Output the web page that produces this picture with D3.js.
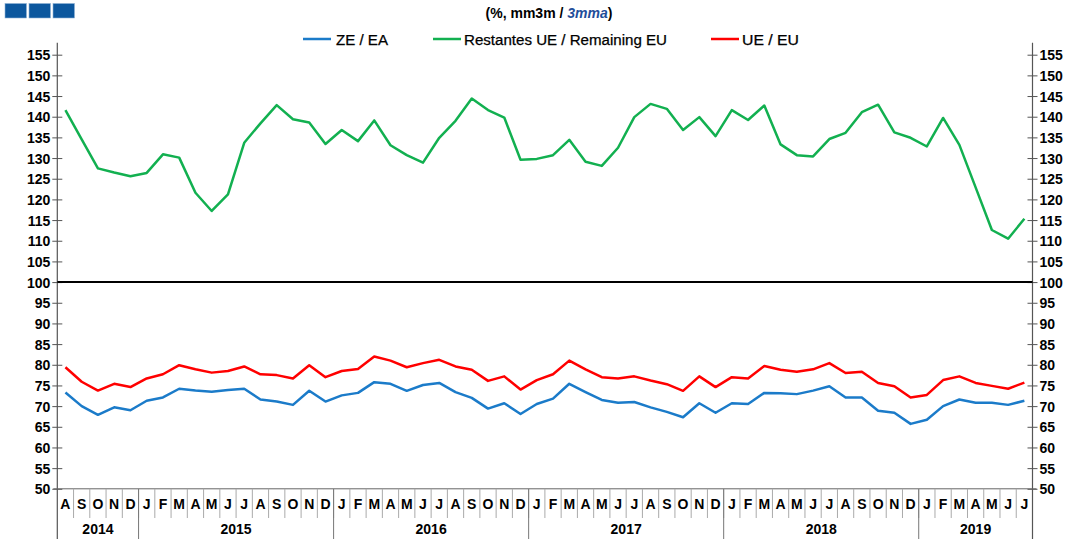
<!DOCTYPE html>
<html>
<head>
<meta charset="utf-8">
<script src="https://cdn.jsdelivr.net/npm/d3@7"></script>
<style>
  html, body { margin: 0; padding: 0; background: #fff; }
  svg { display: block; font-family: "Liberation Sans", Arial, sans-serif; }
  .tick-label { font-size: 14px; font-weight: bold; fill: #000; }
  .month-label { font-size: 14px; font-weight: bold; fill: #000; }
  .year-label { font-size: 14px; font-weight: bold; fill: #000; }
  .legend-label { font-size: 14px; fill: #000; }
</style>
</head>
<body>
<svg id="chart" width="1075" height="539"></svg>
<script>
/* months Aug 2014 .. Jul 2019 */
const monthLetters = ["A","S","O","N","D",
  "J","F","M","A","M","J","J","A","S","O","N","D",
  "J","F","M","A","M","J","J","A","S","O","N","D",
  "J","F","M","A","M","J","J","A","S","O","N","D",
  "J","F","M","A","M","J","J","A","S","O","N","D",
  "J","F","M","A","M","J","J"];

const years = ["2014", "2015", "2016", "2017", "2018", "2019"];
const yearMonths = [5, 12, 12, 12, 12, 7];

const remainingEU = [141.6, 134.5, 127.5, 126.5, 125.6, 126.4, 130.9, 130.1, 121.6, 117.2,
  121.2, 133.7, 138.4, 142.8, 139.4, 138.6, 133.4, 136.8, 134.1, 139.1,
  133.1, 130.7, 128.9, 134.9, 139.0, 144.4, 141.6, 139.8, 129.6, 129.8,
  130.7, 134.4, 129.1, 128.1, 132.5, 139.9, 143.1, 141.9, 136.8, 139.9,
  135.3, 141.6, 139.2, 142.7, 133.3, 130.7, 130.4, 134.6, 136.1, 141.1,
  142.9, 136.2, 134.9, 132.8, 139.7, 133.2, 122.9, 112.6, 110.5, 115.3];

const euroArea = [73.3, 70.0, 67.9, 69.7, 69.0, 71.3, 72.1, 74.2, 73.75, 73.5,
  73.9, 74.2, 71.6, 71.1, 70.3, 73.7, 71.1, 72.6, 73.2, 75.8,
  75.4, 73.7, 75.1, 75.6, 73.4, 72.0, 69.4, 70.7, 68.1, 70.5,
  71.8, 75.4, 73.4, 71.5, 70.8, 71.0, 69.7, 68.6, 67.3, 70.7,
  68.4, 70.7, 70.5, 73.2, 73.1, 72.9, 73.75, 74.8, 72.1, 72.1,
  68.9, 68.4, 65.7, 66.7, 70.0, 71.6, 70.8, 70.8, 70.3, 71.3];

const eu = [79.4, 75.9, 73.75, 75.4, 74.6, 76.7, 77.7, 79.9, 78.9, 78.1,
  78.5, 79.6, 77.7, 77.5, 76.7, 79.9, 77.0, 78.5, 79.0, 82.0,
  81.0, 79.4, 80.4, 81.2, 79.6, 78.8, 76.1, 77.2, 74.0, 76.3,
  77.7, 81.0, 78.9, 77.0, 76.7, 77.2, 76.2, 75.3, 73.7, 77.2,
  74.6, 77.0, 76.7, 79.7, 78.8, 78.3, 78.9, 80.4, 78.0, 78.3,
  75.6, 74.8, 72.1, 72.7, 76.3, 77.2, 75.6, 74.9, 74.2, 75.7];

const series = [
  { name: "ZE / EA", values: euroArea, color: "#1b7bc9" },
  { name: "Restantes UE / Remaining EU", values: remainingEU, color: "#12b050" },
  { name: "UE / EU", values: eu, color: "#ff0000" }
];

const yTicks = d3.range(50, 156, 5);

const svg = d3.select("#chart");
const plotLeft = 57.3, plotRight = 1032.5, plotTop = 54.7, plotBottom = 488.8;

const x = d3.scaleBand().domain(d3.range(monthLetters.length)).range([plotLeft, plotRight]);
const y = d3.scaleLinear().domain([50, 155]).range([plotBottom, plotTop]);

/* logo squares */
svg.append("g").selectAll("rect")
  .data([0, 1, 2]).join("rect")
  .attr("x", d => 5 + d * 24).attr("y", 3.5)
  .attr("width", 21.5).attr("height", 14.5)
  .attr("fill", "#0c579e").attr("stroke", "#8fb3d6").attr("stroke-width", 0.6);

/* subtitle */
const sub = svg.append("text").attr("x", 549).attr("y", 17.5)
  .attr("text-anchor", "middle").style("font-size", "14px").style("font-weight", "bold");
sub.append("tspan").text("(%, mm3m / ");
sub.append("tspan").text("3mma").attr("fill", "#1f4e9a").style("font-style", "italic");
sub.append("tspan").text(")");

/* legend */
const legendPos = [{ lx: 303, tx: 336, w: 52 }, { lx: 433, tx: 464, w: 203 }, { lx: 711, tx: 742, w: 57 }];
const legend = svg.append("g");
series.forEach((s, i) => {
  const p = legendPos[i];
  legend.append("line").attr("x1", p.lx).attr("x2", p.lx + 28)
    .attr("y1", 39).attr("y2", 39).attr("stroke", s.color).attr("stroke-width", 2.5);
  legend.append("text").attr("class", "legend-label").attr("x", p.tx).attr("y", 44.5)
    .attr("textLength", p.w).attr("lengthAdjust", "spacingAndGlyphs")
    .attr("stroke", "#000").attr("stroke-width", 0.25).text(s.name);
});

/* y axes */
const yLeft = d3.axisLeft(y).tickValues(yTicks).tickSize(5).tickFormat(d3.format("d"));
const yRight = d3.axisRight(y).tickValues(yTicks).tickSize(5).tickFormat(d3.format("d"));

function styleAxis(g, dir) {
  g.select(".domain").remove();
  g.selectAll(".tick line").attr("stroke", "#555").attr("x1", -5 * dir).attr("x2", 5 * dir);
  g.selectAll(".tick text").attr("class", "tick-label").attr("x", dir * 7).attr("dy", "0.36em");
}

svg.append("g").attr("transform", `translate(${plotLeft},0)`).call(yLeft).call(g => styleAxis(g, -1));
svg.append("g").attr("transform", `translate(${plotRight},0)`).call(yRight).call(g => styleAxis(g, 1));

/* axis lines */
svg.append("line").attr("x1", plotLeft).attr("x2", plotLeft).attr("y1", plotTop - 12).attr("y2", 539)
  .attr("stroke", "#555").attr("stroke-width", 1.2);
svg.append("line").attr("x1", plotRight).attr("x2", plotRight).attr("y1", plotTop - 12).attr("y2", 539)
  .attr("stroke", "#555").attr("stroke-width", 1.2);
svg.append("line").attr("x1", plotLeft - 4).attr("x2", plotRight + 4).attr("y1", plotBottom).attr("y2", plotBottom)
  .attr("stroke", "#666").attr("stroke-width", 1);

/* 100 line */
svg.append("line").attr("x1", plotLeft).attr("x2", plotRight).attr("y1", y(100)).attr("y2", y(100))
  .attr("stroke", "#000").attr("stroke-width", 2);

/* month separators and letters */
const monthG = svg.append("g");
monthG.selectAll("line").data(d3.range(1, monthLetters.length)).join("line")
  .attr("x1", d => x(d)).attr("x2", d => x(d))
  .attr("y1", plotBottom).attr("y2", 518)
  .attr("stroke", "#aaa").attr("stroke-width", 1);
monthG.selectAll("text").data(monthLetters).join("text")
  .attr("class", "month-label")
  .attr("x", (d, i) => x(i) + x.bandwidth() / 2).attr("y", 508.5)
  .attr("text-anchor", "middle").text(d => d);

/* year separators and labels */
const yearStart = d3.cumsum([0].concat(yearMonths));
const yearG = svg.append("g");
yearG.selectAll("line").data(Array.from(yearStart).slice(1, years.length)).join("line")
  .attr("x1", d => x(d)).attr("x2", d => x(d))
  .attr("y1", plotBottom).attr("y2", 539)
  .attr("stroke", "#777").attr("stroke-width", 1);
yearG.selectAll("text").data(years).join("text")
  .attr("class", "year-label")
  .attr("x", (d, i) => {
    const a = x(yearStart[i]);
    const b = yearStart[i + 1] >= monthLetters.length ? plotRight : x(yearStart[i + 1]);
    return (a + b) / 2;
  })
  .attr("y", 533.5).attr("text-anchor", "middle").text(d => d);

/* lines */
const line = d3.line().x((d, i) => x(i) + x.bandwidth() / 2).y(d => y(d));
svg.append("g").selectAll("path").data(series).join("path")
  .attr("d", s => line(s.values))
  .attr("fill", "none").attr("stroke", s => s.color)
  .attr("stroke-width", 2.5).attr("stroke-linejoin", "round");
</script>
</body>
</html>
